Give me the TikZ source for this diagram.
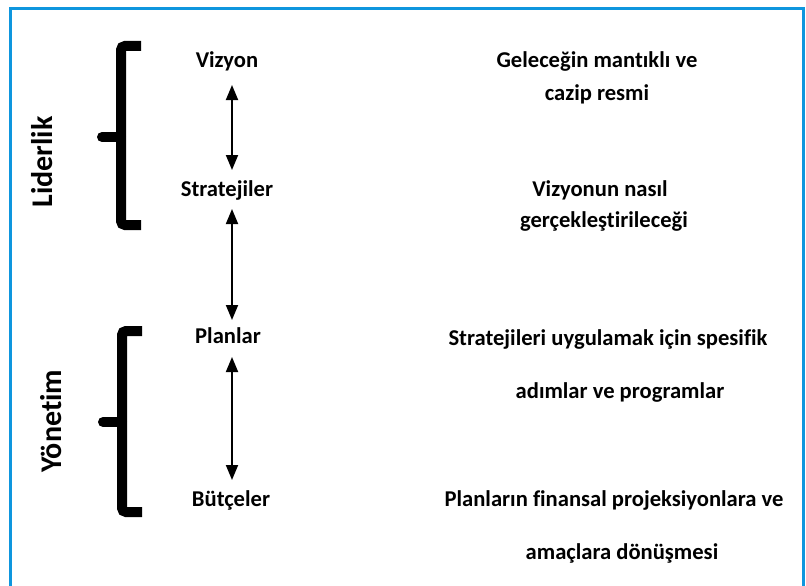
\documentclass[tikz,border=0pt]{standalone}
\usepackage{fontspec}
\setmainfont{Carlito}[Ligatures=NoCommon]
\usetikzlibrary{arrows.meta}
\definecolor{frameblue}{RGB}{14,150,222}
\tikzset{
  lbl/.style={font=\bfseries\fontsize{22.6}{26}\selectfont, anchor=base, inner sep=0pt},
  side/.style={font=\bfseries\fontsize{30}{36}\selectfont, anchor=base, inner sep=0pt, rotate=90},
  brk/.style={line width=10pt, rounded corners=4pt},
  tick/.style={line width=10pt, line cap=round},
  arr/.style={line width=1.8pt, {Triangle[length=15pt,width=12pt]}-{Triangle[length=15pt,width=12pt]}}
}
\begin{document}
\begin{tikzpicture}[x=1pt,y=-1pt]
\useasboundingbox (0,0) rectangle (806,586);
\clip (0,0) rectangle (806,586);
\draw[frameblue, line width=3pt] (10,8.5) rectangle (803,620);

% brackets
\draw[brk] (141,46) -- (121,46) -- (121,225) -- (141,225);
\draw[tick] (102,137) -- (121,137);
\draw[brk] (142,331) -- (122,331) -- (122,512) -- (142,512);
\draw[tick] (103,422) -- (122,422);

\node[side] (lid) at (52,162) {Liderlik};
\node[side] (yon) at (61,421) {Yönetim};

% middle column
\node[lbl] (viz) at (227,68) {Vizyon};
\node[lbl] (str) at (227,196) {Stratejiler};
\node[lbl] (pla) at (228,343) {Planlar};
\node[lbl] (but) at (231,506) {Bütçeler};

\coordinate (ax) at (232,0);
\draw[arr] ([yshift=-17pt]viz.base -| ax) -- ([yshift=26pt]str.base -| ax);
\draw[arr] ([yshift=-13pt]str.base -| ax) -- ([yshift=23pt]pla.base -| ax);
\draw[arr] ([yshift=-14pt]pla.base -| ax) -- ([yshift=26pt]but.base -| ax);

% right column
\node[lbl] (d1a) at (597,68) {Geleceğin mantıklı ve};
\node[lbl] (d1b) at (597,100) {cazip resmi};
\node[lbl] (d2a) at (600,196) {Vizyonun nasıl};
\node[lbl] (d2b) at (604,227) {gerçekleştirileceği};
\node[lbl] (d3a) at (608,345) {Stratejileri uygulamak için spesifik};
\node[lbl] (d3b) at (620,398) {adımlar ve programlar};
\node[lbl] (d4a) at (614,506) {Planların finansal projeksiyonlara ve};
\node[lbl] (d4b) at (622,559) {amaçlara dönüşmesi};
\end{tikzpicture}
\end{document}
